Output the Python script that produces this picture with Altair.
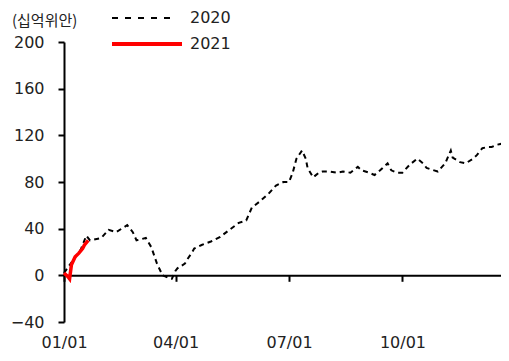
import altair as alt
import pandas as pd

# 2020 series: business-day index, value (십억위안)
idx_2020 = [0, 4, 9, 12, 14, 20, 24, 28, 34, 37, 39, 44, 47, 50, 53, 56, 57, 58, 60, 61,
            65, 66, 69, 70, 74, 79, 84, 89, 94, 98, 101, 105, 110, 114, 118, 121, 123, 125,
            128, 130, 131, 134, 137, 139, 143, 147, 150, 154, 158, 160, 164, 167, 170, 174,
            176, 179, 182, 186, 190, 193, 195, 199, 201, 205, 208, 209, 213, 216, 220, 222,
            225, 228, 230, 233, 236, 239]
val_2020 = [2, 11, 22, 34, 30, 32, 39, 37, 43, 37, 30, 32, 24, 10, 0, -2, -3, -3, 4, 6,
            10, 13, 20, 23, 26, 29, 33, 39, 45, 47, 58, 63, 70, 77, 80, 80, 88, 100,
            107, 100, 92, 84, 88, 89, 89, 88, 89, 88, 93, 90, 88, 86, 90, 96,
            90, 88, 88, 95, 100, 96, 92, 90, 89, 96, 107, 101, 97, 96, 100, 103,
            109, 110, 110, 112, 113, 113]

idx_2021 = [0, 2, 3, 4, 6, 8, 10, 11, 13]
val_2021 = [2, -1, -3, 9, 16, 19, 23, 26, 30]

tick_pos = [0, 60, 121, 182]
tick_labels = ["01/01", "04/01", "07/01", "10/01"]

unit_label = "(십억위안)"
series_names = ["2020", "2021"]

df20 = pd.DataFrame({"i": idx_2020, "v": val_2020})
df21 = pd.DataFrame({"i": idx_2021, "v": val_2021})

FONT = "DejaVu Sans"
KFONT = "Noto Sans CJK KR"
FS = 16
TXT = "#222222"

label_expr = "''"
for p, l in zip(reversed(tick_pos), reversed(tick_labels)):
    label_expr = f"datum.value == {p} ? '{l}' : ({label_expr})"

xscale = alt.Scale(domain=[0, 235], nice=False, zero=False)
yscale = alt.Scale(domain=[-40, 200], nice=False)

xaxis = alt.Axis(values=tick_pos, labelExpr=label_expr, grid=False, offset=-46.7,
                 tickSize=6, labelPadding=53, domainColor="black", tickColor="black",
                 domainWidth=2, tickWidth=2, labelFont=FONT, labelFontSize=FS,
                 labelColor=TXT, title=None, labelFlush=False)
yaxis = alt.Axis(values=[-40, 0, 40, 80, 120, 160, 200], grid=False, tickSize=6,
                 labelPadding=14, domainColor="black", tickColor="black",
                 domainWidth=2, tickWidth=2, labelFont=FONT, labelFontSize=FS,
                 labelColor=TXT, title=None)

base20 = alt.Chart(df20).mark_line(color="black", strokeWidth=2, strokeDash=[5, 4]).encode(
    x=alt.X("i:Q", scale=xscale, axis=xaxis),
    y=alt.Y("v:Q", scale=yscale, axis=yaxis),
)
line21 = alt.Chart(df21).mark_line(color="#ff0000", strokeWidth=3.5).encode(
    x=alt.X("i:Q", scale=xscale),
    y=alt.Y("v:Q", scale=yscale),
)

leg_df = pd.DataFrame({"name": series_names})
leg20 = alt.Chart(leg_df).transform_filter("datum.name == '2020'").mark_rule(
    color="black", strokeWidth=2, strokeDash=[6, 7]).encode(
    x=alt.value(48), x2=alt.value(112), y=alt.value(-24))
leg21 = alt.Chart(leg_df).transform_filter("datum.name == '2021'").mark_rule(
    color="#ff0000", strokeWidth=4).encode(
    x=alt.value(48), x2=alt.value(118), y=alt.value(2))
legtxt20 = alt.Chart(leg_df).transform_filter("datum.name == '2020'").mark_text(
    align="left", baseline="middle", font=FONT, fontSize=FS, color=TXT).encode(
    x=alt.value(126), y=alt.value(-24), text="name:N")
legtxt21 = alt.Chart(leg_df).transform_filter("datum.name == '2021'").mark_text(
    align="left", baseline="middle", font=FONT, fontSize=FS, color=TXT).encode(
    x=alt.value(126), y=alt.value(2), text="name:N")
unit_df = pd.DataFrame({"t": [unit_label]})
unit_txt = alt.Chart(unit_df).mark_text(
    align="left", baseline="middle", font=KFONT, fontSize=15, color=TXT).encode(
    x=alt.value(-52), y=alt.value(-21), text="t:N")

chart = alt.layer(base20, line21, leg20, leg21, legtxt20, legtxt21, unit_txt).properties(
    width=437, height=280,
    autosize=alt.AutoSizeParams(type="none"),
    padding={"left": 56, "top": 34, "right": 0, "bottom": 30},
).configure_view(stroke=None)

chart.save("out.html", embed_options={"renderer": "svg", "actions": False})
